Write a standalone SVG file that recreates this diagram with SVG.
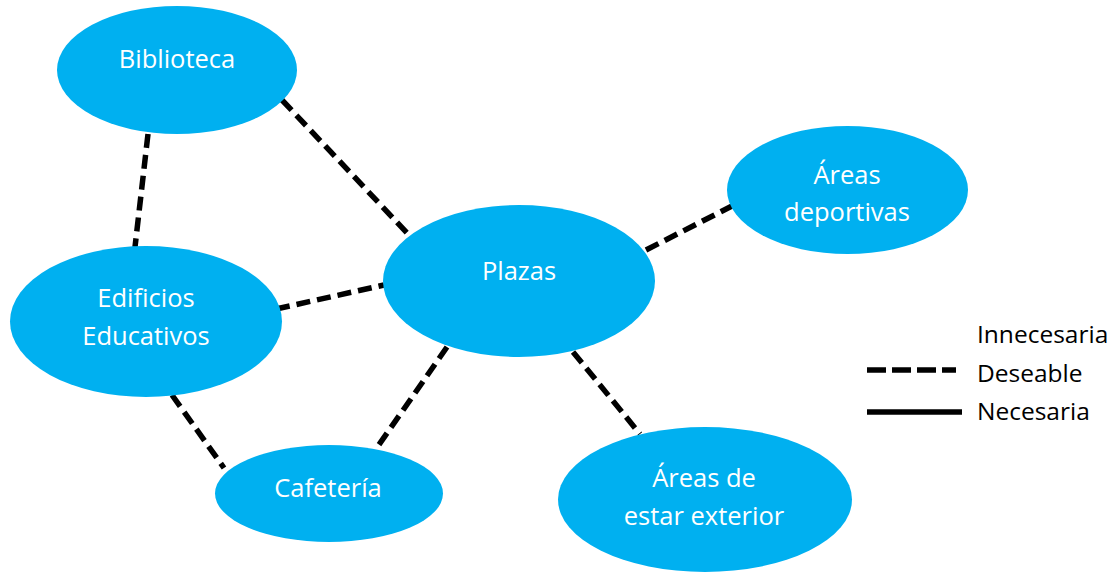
<svg xmlns="http://www.w3.org/2000/svg" width="1119" height="573" viewBox="0 0 1119 573">
<style>
.node{fill:#00B0F0}
.lbl{font-family:"Open Sans","Liberation Sans",sans-serif;font-size:25.5px;fill:#FFFFFF;text-anchor:middle}
.leg{font-family:"Open Sans","Liberation Sans",sans-serif;font-size:24.5px;fill:#000000}
.dash{stroke:#000;stroke-width:5.5;stroke-dasharray:14 7;fill:none}
.solid{stroke:#000;stroke-width:5.5;fill:none}
</style>
<rect width="1119" height="573" fill="#FFFFFF"/>
<g id="connectors">
<line class="dash" x1="148" y1="134" x2="135" y2="247"/>
<line class="dash" x1="282" y1="100" x2="409" y2="235"/>
<line class="dash" x1="276" y1="309" x2="384" y2="285"/>
<line class="dash" x1="646" y1="250" x2="732" y2="206"/>
<line class="dash" x1="447" y1="347" x2="376" y2="449"/>
<line class="dash" x1="172" y1="395" x2="224" y2="468"/>
<line class="dash" x1="573" y1="352" x2="640" y2="434"/>
</g>
<g id="biblioteca">
<ellipse class="node" cx="177" cy="70" rx="120" ry="64"/>
<text class="lbl" x="177" y="68">Biblioteca</text>
</g>
<g id="edificios">
<ellipse class="node" cx="146" cy="321.5" rx="136" ry="75.5"/>
<text class="lbl" x="146" y="307">Edificios</text>
<text class="lbl" x="146" y="345">Educativos</text>
</g>
<g id="plazas">
<ellipse class="node" cx="519" cy="281" rx="136" ry="76"/>
<text class="lbl" x="519" y="280">Plazas</text>
</g>
<g id="areas-deportivas">
<ellipse class="node" cx="847.5" cy="190" rx="120.5" ry="64"/>
<text class="lbl" x="847" y="184">Áreas</text>
<text class="lbl" x="847" y="221">deportivas</text>
</g>
<g id="cafeteria">
<ellipse class="node" cx="329" cy="493.5" rx="114" ry="48.5"/>
<text class="lbl" x="328" y="497">Cafetería</text>
</g>
<g id="areas-estar">
<ellipse class="node" cx="705" cy="499.5" rx="147" ry="72.5"/>
<text class="lbl" x="704" y="487">Áreas de</text>
<text class="lbl" x="704" y="525">estar exterior</text>
</g>
<g id="legend">
<text class="leg" x="977" y="343">Innecesaria</text>
<line class="dash" x1="867" y1="370" x2="956" y2="370" style="stroke-dasharray:19 6"/>
<text class="leg" x="977" y="382">Deseable</text>
<line class="solid" x1="867" y1="412" x2="962" y2="412"/>
<text class="leg" x="977" y="420">Necesaria</text>
</g>
</svg>
